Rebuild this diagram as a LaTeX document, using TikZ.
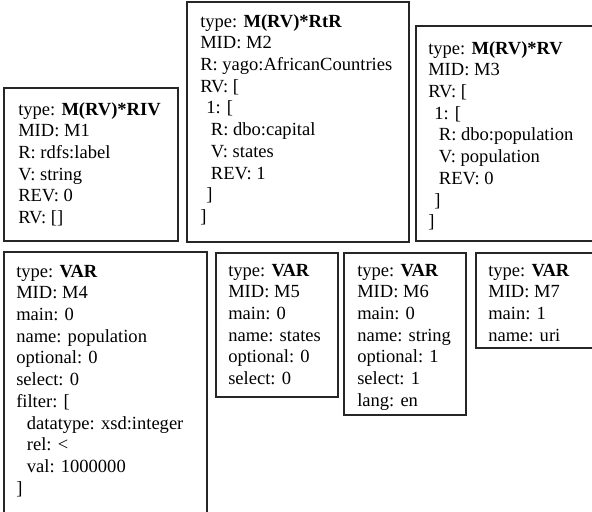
\documentclass[tikz,border=0pt]{standalone}
\usepackage{fontspec}
\setmainfont{Liberation Serif}
\newcommand\boxfont{\fontsize{13.9pt}{16.3pt}\selectfont}
% indentation levels inside a record
\newcommand\lvlone{\hspace*{4.5pt}}
\newcommand\lvltwo{\hspace*{8pt}}
\newenvironment{rec}{\begin{tabular}[t]{@{}l@{}}}{\end{tabular}}
\begin{document}
\begin{tikzpicture}[x=0.75pt,y=-0.75pt,
  panel/.style={draw=black!85, line width=0.9pt},
  entry/.style={anchor=base west, inner sep=0pt, font=\boxfont}]
\useasboundingbox (0,0) rectangle (592,511);
\clip (0,0) rectangle (592,511);

% upper row: mapping records
\draw[panel] (4,88) rectangle (178,241);
\node[entry] (m1) at (18,115) {\begin{rec}
type: \textbf{M(RV)*RIV}\\
MID: M1\\
R: rdfs:label\\
V: string\\
REV: 0\\
RV: []
\end{rec}};

\draw[panel] (187,2) rectangle (409,242);
\node[entry] (m2) at (200,27) {\begin{rec}
type: \textbf{M(RV)*RtR}\\
MID: M2\\
R: yago:AfricanCountries\\
RV: [\\
\lvlone 1: [\\
\lvltwo R: dbo:capital\\
\lvltwo V: states\\
\lvltwo REV: 1\\
\lvlone ]\\
]
\end{rec}};

\draw[panel] (416,26) rectangle (596,241);
\node[entry] (m3) at (428,54) {\begin{rec}
type: \textbf{M(RV)*RV}\\
MID: M3\\
RV: [\\
\lvlone 1: [\\
\lvltwo R: dbo:population\\
\lvltwo V: population\\
\lvltwo REV: 0\\
\lvlone ]\\
]
\end{rec}};

% lower row: variable records
\draw[panel] (4,252) rectangle (207,520);
\node[entry] (m4) at (16,277) {\begin{rec}
type: \textbf{VAR}\\
MID: M4\\
main: 0\\
name: population\\
optional: 0\\
select: 0\\
filter: [\\
\lvltwo datatype: xsd:integer\\
\lvltwo rel: <\\
\lvltwo val: 1000000\\
]
\end{rec}};

\draw[panel] (216,253) rectangle (338,397);
\node[entry] (m5) at (228,276) {\begin{rec}
type: \textbf{VAR}\\
MID: M5\\
main: 0\\
name: states\\
optional: 0\\
select: 0
\end{rec}};

\draw[panel] (344,253) rectangle (466,415);
\node[entry] (m6) at (357,276) {\begin{rec}
type: \textbf{VAR}\\
MID: M6\\
main: 0\\
name: string\\
optional: 1\\
select: 1\\
lang: en
\end{rec}};

\draw[panel] (476,253) rectangle (596,348);
\node[entry] (m7) at (488,276) {\begin{rec}
type: \textbf{VAR}\\
MID: M7\\
main: 1\\
name: uri
\end{rec}};
\end{tikzpicture}
\end{document}
